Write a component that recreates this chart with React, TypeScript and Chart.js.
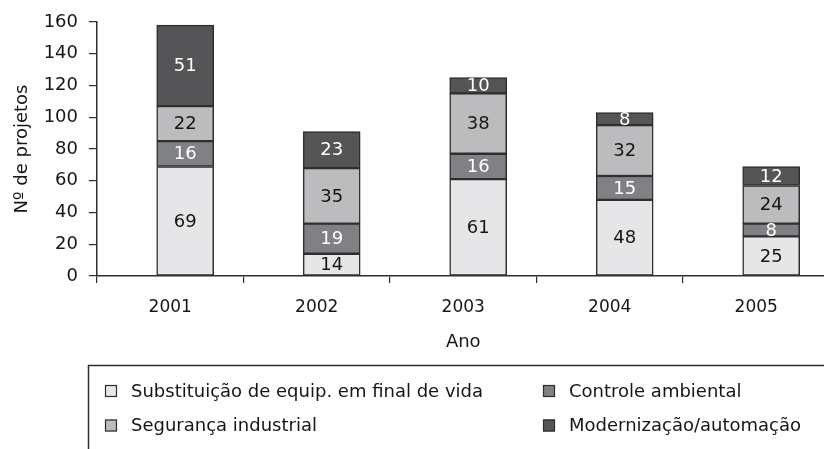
import React, { useEffect, useRef } from "react";
import { Chart, registerables } from "chart.js";

Chart.register(...registerables);

// ---- data ----
const years = ["2001", "2002", "2003", "2004", "2005"];
const substituicao = [69, 14, 61, 48, 25];
const controleAmbiental = [16, 19, 16, 15, 8];
const seguranca = [22, 35, 38, 32, 24];
const modernizacao = [51, 23, 10, 8, 12];
const seriesLabels = [
  "Substituição de equip. em final de vida",
  "Controle ambiental",
  "Segurança industrial",
  "Modernização/automação",
];
const yAxisTitle = "Nº de projetos";
const xAxisTitle = "Ano";

// ---- styles ----
const FONT = "'DejaVu Sans', sans-serif";
const TEXT = "#161616";
const AXIS = "#2e2e2e";
const fills = ["#e6e6e8", "#808184", "#bcbcbf", "#555557"];
const labelColors = ["#161616", "#ffffff", "#161616", "#ffffff"];
const BAR_SHIFT = 0.102; // bars sit a bit right of category centre

const barLabels = {
  id: "barLabels",
  afterDatasetsDraw(chart: any) {
    const ctx = chart.ctx;
    ctx.save();
    ctx.font = `18px ${FONT}`;
    ctx.textAlign = "center";
    ctx.textBaseline = "middle";
    chart.data.datasets.forEach((ds: any, di: number) => {
      const meta = chart.getDatasetMeta(di);
      meta.data.forEach((el: any, i: number) => {
        const { x, y, base } = el.getProps(["x", "y", "base"], true);
        ctx.fillStyle = labelColors[di];
        ctx.fillText(String(ds.data[i]), x, (y + base) / 2 + 1);
      });
    });
    ctx.restore();
  },
};

const boxLegend = {
  id: "boxLegend",
  afterDraw(chart: any) {
    const ctx = chart.ctx;
    ctx.save();
    ctx.strokeStyle = AXIS;
    ctx.lineWidth = 1.5;
    ctx.beginPath();
    ctx.moveTo(80.5, chart.height + 5);
    ctx.lineTo(80.5, 357.5);
    ctx.lineTo(chart.width + 5, 357.5);
    ctx.stroke();
    const colX = [97, 535];
    const rowY = [383, 417.5];
    ctx.font = `18px ${FONT}`;
    ctx.textAlign = "left";
    ctx.textBaseline = "middle";
    chart.data.datasets.forEach((ds: any, i: number) => {
      const cx = colX[i % 2];
      const cy = rowY[Math.floor(i / 2)];
      ctx.fillStyle = ds.backgroundColor;
      ctx.fillRect(cx, cy - 6, 12, 12);
      ctx.lineWidth = 1.2;
      ctx.strokeStyle = AXIS;
      ctx.strokeRect(cx + 0.5, cy - 5.5, 11, 11);
      ctx.fillStyle = TEXT;
      ctx.fillText(ds.label, cx + 26, cy + 1);
    });
    ctx.restore();
  },
};

export default function App() {
  const ref = useRef<HTMLCanvasElement>(null);

  useEffect(() => {
    if (!ref.current) return;
    const seriesData = [substituicao, controleAmbiental, seguranca, modernizacao];
    const first = Number(years[0]);
    const chart = new Chart(ref.current, {
      type: "bar",
      data: {
        labels: years,
        datasets: seriesData.map((d, i) => ({
          label: seriesLabels[i],
          data: d,
          backgroundColor: fills[i],
          borderColor: AXIS,
          borderWidth: 1.5,
          borderSkipped: false,
          barThickness: 57,
          xAxisID: "xb",
          yAxisID: "y",
        })),
      },
      options: {
        responsive: false,
        animation: false,
        devicePixelRatio: 1,
        layout: { padding: { left: 0, top: 14, right: 18.5, bottom: 0 } },
        plugins: {
          legend: { display: false },
          tooltip: { enabled: false },
        },
        scales: {
          x: {
            type: "category",
            position: "bottom",
            offset: true,
            grid: {
              offset: true,
              drawOnChartArea: false,
              drawTicks: true,
              tickLength: 7,
              color: AXIS,
              lineWidth: 1.2,
            },
            border: { display: true, color: AXIS, width: 1.5 },
            ticks: { font: { family: FONT, size: 17 }, color: TEXT, padding: 14 },
            title: {
              display: true,
              text: xAxisTitle,
              font: { family: FONT, size: 18 },
              color: TEXT,
              padding: { top: 0, bottom: 96 },
            },
            afterFit: (s: any) => {
              s.height = 173;
            },
          },
          xb: {
            type: "linear",
            display: false,
            stacked: true,
            offset: false,
            min: first - 0.5 - BAR_SHIFT,
            max: first + years.length - 0.5 - BAR_SHIFT,
            grid: { offset: false },
          },
          y: {
            type: "linear",
            position: "left",
            stacked: true,
            min: 0,
            max: 160,
            ticks: {
              stepSize: 20,
              font: { family: FONT, size: 18 },
              color: TEXT,
              padding: 11,
            },
            grid: {
              drawOnChartArea: false,
              drawTicks: true,
              tickLength: 8,
              color: AXIS,
              lineWidth: 1.2,
            },
            border: { display: true, color: AXIS, width: 1.5 },
            title: {
              display: true,
              text: yAxisTitle,
              font: { family: FONT, size: 18 },
              color: TEXT,
              padding: { top: 4, bottom: 0 },
            },
            afterFit: (s: any) => {
              s.width = 89;
              s.paddingTop = 0;
              s.paddingBottom = 0;
            },
          },
        },
      },
      plugins: [barLabels, boxLegend],
    } as any);
    return () => chart.destroy();
  }, []);

  return (
    <div
      style={{
        position: "fixed",
        left: 8,
        top: 8,
        width: 816,
        height: 441,
        overflow: "hidden",
      }}
    >
      <canvas ref={ref} width={840} height={441} style={{ display: "block" }} />
    </div>
  );
}
